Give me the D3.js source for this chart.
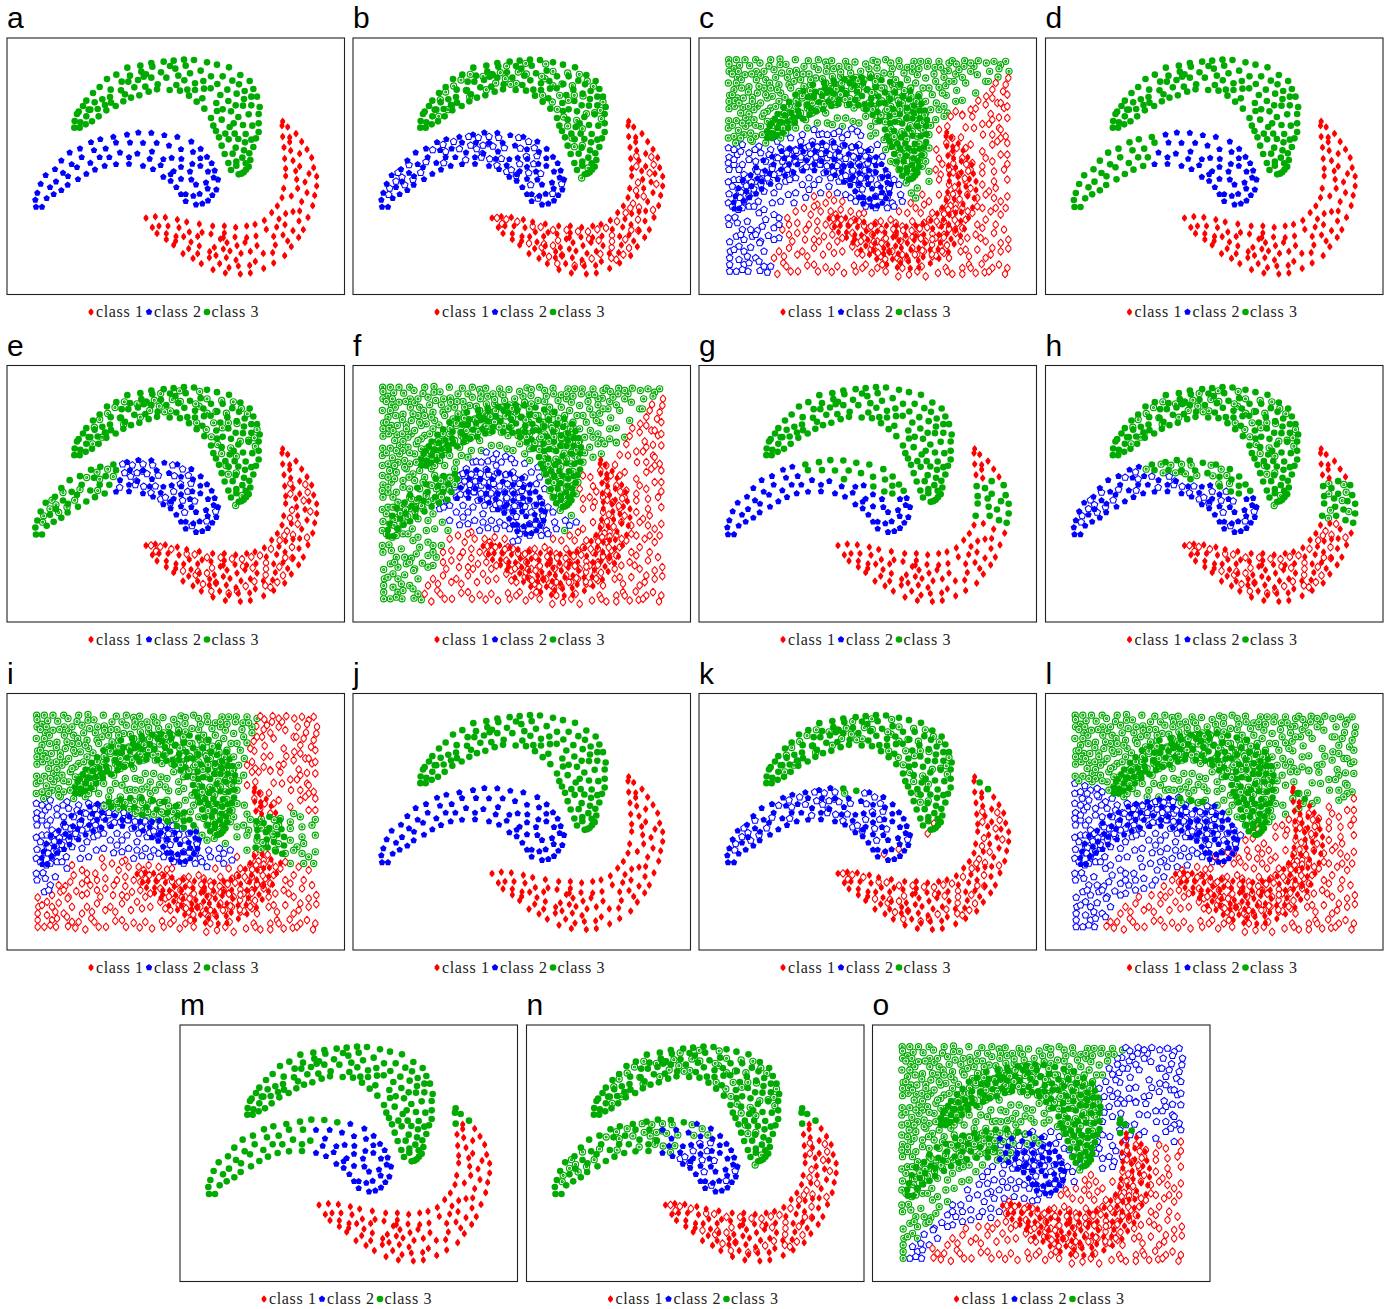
<!DOCTYPE html>
<html><head><meta charset="utf-8">
<script src="https://cdn.jsdelivr.net/npm/d3@7/dist/d3.min.js"></script>
<style>html,body{margin:0;padding:0;background:#fff}svg{display:block}</style></head>
<body><svg id="c" width="1390" height="1309"></svg>
<script>
const classNames = ["class 1","class 2","class 3"];
const panelLetters = "abcdefghijklmno".split("");

// data points of the three arms
const armRed = [[827,259],[825,272],[842,276],[827,305],[848,307],[867,296],[848,321],[884,320],[831,337],[851,347],[878,356],[900,343],[833,371],[858,377],[878,394],[914,368],[920,398],[836,401],[866,408],[906,416],[929,424],[836,423],[869,433],[894,441],[929,453],[830,460],[872,460],[900,473],[923,481],[825,488],[853,483],[884,500],[917,512],[811,513],[794,533],[836,536],[858,530],[878,528],[903,547],[772,556],[816,552],[834,569],[876,558],[889,584],[744,568],[719,573],[686,577],[652,573],[617,573],[577,567],[539,561],[511,554],[475,547],[445,545],[417,549],[436,577],[456,573],[483,573],[516,578],[450,595],[478,596],[478,613],[507,604],[530,605],[547,591],[585,592],[572,604],[612,597],[652,594],[649,608],[684,606],[640,612],[719,608],[747,603],[778,583],[809,576],[800,604],[828,600],[858,587],[875,607],[842,618],[853,635],[552,621],[506,618],[500,630],[545,641],[577,633],[608,650],[622,637],[660,623],[690,632],[714,622],[750,632],[805,630],[649,642],[528,656],[572,656],[558,670],[607,668],[627,661],[669,648],[702,655],[730,649],[769,655],[797,653],[833,662],[658,668],[687,675],[583,686],[638,686],[666,698],[694,693],[728,691],[745,679],[618,704],[655,714],[700,717],[730,714],[770,700],[800,684]];
const armBlue = [[87,516],[105,516],[85,495],[91,474],[119,490],[101,447],[129,457],[140,478],[163,466],[182,450],[147,440],[116,421],[144,403],[168,414],[183,424],[213,433],[238,417],[264,404],[293,393],[327,388],[366,387],[408,393],[438,403],[461,391],[469,373],[428,372],[366,367],[391,356],[435,350],[339,353],[307,367],[278,367],[250,384],[224,367],[210,397],[194,388],[163,377],[188,353],[219,341],[261,346],[296,341],[327,323],[252,322],[280,313],[319,306],[360,299],[394,293],[433,294],[472,301],[511,306],[553,320],[369,323],[408,324],[449,324],[486,332],[522,343],[558,351],[581,342],[494,369],[523,372],[556,387],[580,370],[600,366],[580,393],[614,385],[522,396],[549,410],[603,410],[623,407],[500,409],[491,418],[469,426],[491,438],[522,432],[553,434],[620,428],[633,434],[597,443],[567,449],[508,457],[602,461],[628,464],[522,478],[536,478],[559,483],[578,477],[616,481],[536,499],[567,509],[586,506],[603,497]];
const armGreen = [[203,258],[220,262],[202,278],[218,278],[236,268],[255,259],[210,237],[215,230],[238,244],[228,213],[238,197],[245,224],[250,224],[272,222],[275,244],[263,202],[286,193],[294,210],[298,226],[309,186],[312,203],[326,213],[258,174],[278,156],[311,164],[342,166],[354,178],[349,199],[372,188],[397,181],[300,132],[328,119],[344,140],[361,98],[369,122],[364,140],[382,157],[393,135],[400,92],[403,110],[410,125],[417,118],[433,84],[436,95],[433,128],[415,155],[425,170],[450,163],[452,148],[462,112],[478,128],[470,80],[489,93],[500,77],[505,101],[514,122],[531,74],[536,92],[561,75],[549,115],[532,136],[508,150],[488,165],[519,167],[541,164],[546,182],[564,145],[564,165],[589,138],[591,161],[612,124],[611,160],[581,107],[600,82],[630,89],[666,97],[647,124],[631,147],[676,137],[700,120],[728,138],[696,148],[739,162],[661,164],[640,180],[689,176],[713,168],[711,192],[733,185],[750,185],[758,216],[733,211],[708,212],[686,211],[664,198],[628,204],[569,200],[586,190],[592,221],[630,228],[647,223],[612,249],[644,254],[672,229],[694,246],[725,238],[755,237],[668,276],[680,265],[708,270],[736,272],[755,265],[619,272],[627,288],[655,296],[683,296],[716,297],[755,291],[636,307],[665,313],[694,312],[714,322],[733,314],[747,310],[644,332],[686,338],[711,346],[739,336],[653,357],[677,356],[727,355],[706,368],[664,384],[688,380],[730,375],[716,385],[672,405],[688,392],[725,395],[717,404],[710,412],[695,418],[703,416]];

// unlabeled points inside the arms
const openRed = [[432,549],[447,566],[460,553],[493,560],[539,574],[563,576],[600,585],[641,585],[675,589],[705,590],[733,583],[759,579],[792,559],[818,534],[840,506],[858,517],[855,554],[835,585],[777,601],[737,616],[708,612],[817,613],[856,587],[828,639],[811,659],[790,674],[775,669],[742,657],[716,671],[690,686],[665,692],[613,686],[588,665],[615,616],[600,632],[566,637],[573,627],[528,625],[627,661],[850,363],[895,366],[902,389],[850,394],[890,414],[855,443],[910,447],[872,484],[849,467],[900,525],[832,519],[776,637],[777,619]];
const openBlue = [[347,305],[376,308],[408,305],[497,308],[437,308],[527,320],[302,320],[270,329],[239,345],[319,342],[353,331],[371,342],[390,331],[408,327],[420,334],[454,339],[502,340],[544,339],[278,350],[388,356],[219,381],[168,390],[135,413],[147,427],[129,439],[110,460],[155,450],[180,434],[203,413],[272,384],[338,375],[410,372],[385,367],[445,371],[500,387],[542,387],[552,363],[520,364],[432,391],[461,410],[475,405],[490,422],[527,414],[563,416],[533,450],[626,447],[599,476],[555,490],[107,479]];
const openGreen = [[352,118],[324,135],[390,124],[418,119],[442,113],[461,93],[518,85],[578,87],[600,109],[644,114],[679,118],[703,138],[721,154],[658,152],[627,147],[600,152],[576,131],[520,117],[490,145],[473,148],[457,131],[428,144],[400,164],[340,166],[350,186],[278,171],[302,153],[262,194],[296,212],[257,244],[285,224],[569,181],[598,201],[620,181],[646,196],[664,181],[690,183],[613,223],[632,246],[671,256],[700,236],[725,233],[742,226],[750,201],[745,251],[644,273],[688,281],[657,309],[688,331],[664,335],[705,399],[686,429],[496,111],[566,124]];

// scattered test points behind the arms
const gridPoints = [[89,65],[90,78],[112,65],[122,82],[105,92],[138,65],[152,83],[170,65],[183,75],[215,65],[210,84],[243,63],[243,80],[261,79],[289,65],[292,97],[328,68],[345,85],[358,65],[380,72],[384,85],[398,68],[358,95],[382,100],[404,92],[440,70],[445,85],[468,72],[485,100],[522,67],[510,92],[534,90],[560,65],[575,75],[600,68],[602,85],[625,88],[645,70],[665,70],[640,100],[688,70],[685,85],[720,70],[708,88],[750,75],[748,98],[760,68],[797,68],[795,85],[772,78],[825,85],[838,68],[862,75],[885,70],[872,100],[920,70],[905,80],[930,100],[900,92],[815,75],
[115,118],[90,100],[88,135],[150,146],[127,125],[138,110],[172,100],[200,125],[185,112],[212,135],[230,118],[265,118],[240,140],[270,140],[293,110],[305,125],[330,108],[350,120],[370,122],[425,115],[455,105],[470,118],[495,125],[515,110],[535,115],[555,105],[575,108],[590,125],[615,105],[655,110],[680,120],[705,108],[735,100],[770,108],[790,118],[815,100],[835,110],[860,130],[897,117],[928,120],[920,140],[868,130],
[92,172],[115,180],[133,180],[105,155],[160,178],[175,165],[195,150],[215,150],[220,175],[245,165],[275,150],[300,160],[335,140],[365,160],[395,145],[420,140],[440,160],[470,150],[505,155],[530,145],[555,150],[580,140],[600,145],[610,175],[635,150],[660,170],[690,150],[720,148],[740,143],[773,157],[700,170],[765,130],[800,135],[830,165],[862,175],[880,155],[912,160],[925,170],[890,135],
[90,190],[90,212],[107,205],[132,208],[125,225],[160,190],[175,205],[165,215],[205,180],[215,210],[240,190],[262,210],[310,180],[340,195],[370,190],[410,200],[445,200],[475,180],[510,195],[545,190],[575,205],[610,195],[640,205],[660,185],[680,190],[712,195],[742,172],[720,215],[745,225],[770,190],[790,187],[770,220],[790,230],[815,215],[830,212],[838,188],[860,200],[895,195],[880,180],[905,195],[915,210],[875,228],[925,205],
[89,248],[112,248],[140,240],[150,255],[190,235],[205,220],[220,250],[250,230],[275,240],[305,225],[340,225],[380,225],[415,240],[440,240],[462,250],[500,235],[530,250],[560,250],[590,225],[625,240],[650,230],[680,225],[710,245],[735,235],[755,235],[790,232],[820,236],[850,258],[880,245],[900,238],[925,240],[900,270],
[88,270],[88,300],[118,277],[135,290],[155,285],[140,265],[185,265],[170,295],[205,280],[230,300],[260,285],[290,270],[325,270],[360,290],[385,255],[370,288],[405,287],[430,300],[458,273],[485,292],[515,294],[555,305],[580,280],[605,290],[640,280],[665,270],[690,290],[720,275],[745,265],[760,300],[786,298],[800,268],[825,270],[852,290],[870,258],[905,275],[920,295],[905,300],[880,290],
[88,330],[110,315],[130,320],[150,345],[160,310],[180,325],[200,315],[235,310],[270,335],[305,310],[320,330],[340,310],[370,320],[400,312],[433,322],[457,328],[480,320],[515,335],[535,320],[560,335],[590,315],[620,330],[660,318],[690,330],[712,335],[742,315],[773,330],[800,330],[815,320],[850,340],[880,320],[895,310],[925,315],[925,350],
[90,358],[88,375],[115,350],[130,380],[150,365],[185,345],[200,370],[230,358],[270,350],[290,372],[325,360],[350,375],[385,360],[410,350],[440,362],[470,360],[500,380],[525,368],[550,355],[575,370],[610,350],[640,365],[680,370],[720,362],[730,378],[760,345],[790,360],[820,375],[860,360],[880,370],[925,378],[905,350],[850,385],
[90,395],[105,380],[120,395],[135,410],[170,395],[190,405],[220,385],[240,405],[260,385],[280,405],[310,395],[340,385],[375,405],[405,395],[432,385],[460,402],[490,397],[525,405],[565,408],[600,395],[640,395],[670,385],[690,400],[710,395],[725,410],[750,395],[780,410],[815,395],[850,405],[885,400],[915,395],
[88,432],[105,425],[100,445],[120,460],[150,440],[170,430],[210,430],[240,445],[260,430],[290,420],[310,440],[330,455],[345,440],[365,465],[390,445],[415,465],[440,425],[480,440],[510,425],[535,440],[570,452],[600,440],[637,465],[655,450],[690,430],[720,425],[750,440],[775,450],[800,430],[850,440],[885,430],[925,425],[870,460],[890,450],
[90,468],[115,478],[88,495],[135,490],[150,475],[178,490],[220,495],[245,490],[268,470],[285,495],[320,478],[345,475],[355,500],[380,495],[405,487],[430,490],[455,480],[480,470],[510,490],[550,470],[580,495],[610,490],[635,495],[650,480],[670,470],[690,490],[720,470],[745,480],[770,500],[805,470],[835,480],[860,470],[885,480],[905,490],[925,475],
[100,505],[130,510],[150,505],[180,525],[195,515],[240,540],[265,540],[290,520],[315,510],[335,530],[365,520],[395,520],[425,515],[455,520],[480,528],[500,505],[530,510],[565,510],[600,520],[625,525],[650,510],[675,500],[700,525],[730,515],[760,530],[790,510],[820,525],[850,510],[875,520],[905,530],[920,510],
[88,540],[108,538],[90,560],[115,555],[130,575],[155,575],[175,578],[200,545],[225,570],[250,575],[270,560],[295,555],[330,560],[355,550],[380,560],[420,545],[450,560],[480,550],[510,570],[545,550],[575,545],[610,565],[640,550],[660,570],[690,545],[720,560],[750,570],[775,555],[800,545],[835,560],[860,545],[890,560],[915,575],
[112,595],[160,595],[135,605],[185,610],[208,593],[240,600],[270,590],[295,585],[318,605],[345,605],[355,578],[375,595],[400,590],[430,600],[460,585],[495,600],[520,590],[555,605],[590,590],[620,600],[650,590],[680,610],[710,600],[735,590],[770,585],[805,600],[830,590],[860,610],[885,585],[905,615],[928,605],
[92,612],[94,640],[120,625],[135,640],[155,628],[182,615],[225,660],[240,640],[270,630],[295,650],[325,655],[345,630],[372,650],[390,625],[430,640],[460,625],[490,650],[515,635],[545,655],[580,640],[610,650],[640,630],[675,640],[700,655],[725,625],[750,660],[785,640],[810,655],[835,635],[860,660],[880,630],[905,640],[928,632],
[92,660],[92,680],[120,665],[135,680],[150,675],[170,660],[180,670],[112,700],[92,700],[147,700],[183,698],[205,703],[215,685],[235,708],[253,675],[275,700],[297,700],[325,682],[357,700],[380,688],[398,702],[435,705],[465,683],[470,700],[518,705],[535,690],[560,700],[598,715],[630,710],[655,700],[680,715],[717,705],[740,690],[760,708],[790,690],[790,708],[830,705],[857,703],[880,690],[900,680],[925,690],[918,708],[848,678],[810,680],[500,680],
[100,108],[118,100],[158,108],[112,135],[172,125],[195,100],[225,95],[248,105],[272,100],[315,85],[312,108],[335,125],[400,115],[420,85],[425,102],[450,88],[445,125],[500,78],[535,72],[580,92],[640,85],[660,92],[725,88],[735,118],[750,130],[780,95],
[100,170],[128,150],[148,162],[180,145],[200,170],[235,155],[258,178],[285,130],[315,145],[345,165],[380,135],[410,165],[455,135],[490,145],[520,170],[570,170],[625,125],[650,135],[672,150],[710,130],[730,165],
[108,188],[120,195],[148,205],[150,228],[185,195],[195,225],[230,205],[290,205],[325,210],[355,215],[395,185],[430,180],[465,210],[495,210],[530,205],[560,220],[595,180],[625,220],[660,215],[695,215],[735,205],
[100,262],[130,255],[165,245],[170,262],[205,250],[235,260],[265,255],[320,245],[355,255],[400,260],[430,265],[480,255],[515,265],[545,235],[600,250],[660,255],[695,262],
[105,295],[125,300],[190,290],[155,305],[220,280],[245,300],[275,300],[310,290],[345,275],[385,290],[420,280],[445,290],[475,280],[530,285],[570,300],[620,300],[655,295],
[105,335],[125,340],[168,335],[215,335],[245,330],[290,335],[335,335],[355,345],[420,335],[495,345],[575,325],[600,345],[640,335],[675,350],
[105,365],[170,370],[210,350],[250,370],[305,365],[365,380],[420,375],[455,380],[510,360],[590,375],[620,385],[660,360],
[120,425],[135,430],[185,425],[225,410],[272,425],[330,420],[360,425],[395,420],[420,430],[465,425],[495,420],[545,420],[585,425],[625,420],
[135,455],[165,465],[195,460],[225,465],[290,465],[390,470],[440,470],[470,490],[530,475],[565,480],[605,470],
[118,515],[165,505],[225,530],[345,505],[410,530],[495,525],[585,505],[665,525],[745,505],[835,505],[890,510],
[145,550],[190,565],[240,560],[320,575],[400,565],[465,545],[530,555],[590,555],[675,555],[735,550],[790,570],[850,570],
[125,590],[170,590],[225,605],[280,610],[360,610],[415,610],[475,615],[535,610],[605,610],[665,600],[725,605],[785,610],[845,600],
[105,635],[145,655],[195,640],[255,655],[310,640],[405,645],[475,645],[530,640],[595,660],[655,650],[735,645],[800,635],[875,650],
[130,695],[195,685],[262,685],[345,680],[415,685],[490,690],[550,680],[610,690],[668,685],[745,700],[815,690],[870,700]];

// class regions for the scattered points: [class, polygon], first match wins, otherwise class 1
const gridRegions = {
 c:[[2,[[70,310],[190,325],[340,270],[470,265],[545,325],[590,400],[640,490],[560,525],[480,510],[400,470],[330,470],[260,530],[225,660],[230,720],[70,720]]],
    [3,[[70,50],[940,50],[935,100],[800,190],[740,235],[700,300],[705,410],[650,490],[590,440],[540,325],[470,265],[340,270],[190,325],[70,310]]]],
 f:[[2,[[255,430],[300,380],[320,320],[380,255],[460,265],[520,290],[560,300],[580,370],[600,430],[680,470],[620,500],[570,545],[490,550],[470,520],[380,500],[340,490],[280,470]]],
    [3,[[70,50],[940,50],[905,90],[850,150],[800,250],[700,290],[680,360],[680,500],[620,500],[560,530],[480,500],[340,490],[270,530],[225,650],[205,715],[70,720]]]],
 i:[[2,[[70,320],[300,320],[330,365],[450,385],[520,400],[580,440],[660,455],[690,495],[600,535],[480,510],[400,500],[280,490],[200,510],[140,560],[120,605],[70,605]]],
    [3,[[70,50],[760,50],[725,150],[715,280],[725,365],[860,355],[940,365],[940,530],[860,515],[760,470],[705,480],[660,455],[580,440],[520,400],[450,385],[330,365],[300,320],[70,320]]]],
 l:[[2,[[70,260],[130,265],[210,310],[310,320],[400,310],[460,340],[540,370],[590,430],[545,490],[490,510],[400,520],[350,570],[270,615],[210,650],[170,715],[70,715]]],
    [3,[[70,50],[940,50],[940,305],[830,335],[680,375],[630,430],[590,430],[540,370],[460,340],[400,310],[310,320],[210,310],[130,265],[70,260]]]],
 o:[[2,[[770,50],[945,50],[945,345],[810,365],[745,340],[755,400],[700,445],[650,440],[610,480],[560,505],[480,530],[410,530],[370,590],[300,600],[200,650],[140,710],[100,715],[120,660],[220,540],[330,455],[375,410],[385,345],[460,325],[530,290],[570,320],[600,400],[650,420],[680,330],[670,180],[700,140]]],
    [3,[[70,50],[770,50],[700,140],[670,180],[680,330],[650,420],[600,400],[570,320],[530,290],[460,325],[385,345],[375,410],[330,455],[220,540],[120,660],[85,720],[70,720]]]]
};

// label changes on the arm points
const tailShort = [[0,200],[335,200],[335,335],[320,345],[320,600],[0,600]];
const topEdge = [[300,270],[670,270],[670,400],[575,395],[530,380],[470,360],[400,345],[340,330],[300,320]];
const redPatch = [[790,349],[950,349],[950,482],[790,482]];
const tailLong = [[0,200],[400,200],[400,600],[0,600]];
const tailLongOpen = [[0,200],[450,200],[450,400],[0,400]];
const topOpen = [[450,200],[600,200],[600,349],[450,349]];
const topFew = [[425,285],[490,285],[490,315],[425,315]];
const topFewMore = [[425,285],[520,285],[520,315],[425,315]];
const redTip = [[815,250],[880,250],[880,300],[842,300],[835,312],[815,312]];
const redTipFew = [[835,265],[875,265],[875,305],[835,295]];
const blueEndOpen = [[530,470],[610,470],[610,515],[530,515]];
const greenEndOpen = [[680,385],[715,385],[715,440],[680,440]];
const rulesLong = [[2,3,tailLong,"all"],[2,3,tailLongOpen,"open"],[2,3,topOpen,"open"],[2,3,topFew,"filled"],[1,3,redTip,"all"]];
const armRules = {
 d:[[2,3,tailShort,"all"]], e:[[2,3,tailShort,"all"]], f:[[2,3,tailShort,"all"]],
 g:[[2,3,topEdge,"all"],[1,3,redPatch,"all"]], h:[[2,3,topEdge,"all"],[1,3,redPatch,"all"]], i:[[2,3,topEdge,"all"],[1,3,redPatch,"all"]],
 k:[[2,3,topFew,"all"],[2,1,blueEndOpen,"open"],[3,1,greenEndOpen,"open"],[1,3,redTipFew,"all"]],
 l:[[2,3,topFewMore,"all"],[2,1,blueEndOpen,"open"],[3,1,greenEndOpen,"open"],[1,3,redTipFew,"all"]],
 m:rulesLong, n:rulesLong, o:rulesLong
};
const withOpen = "bcefhiklno";
const withGrid = "cfilo";

const classColors = {1:"#ff0000",2:"#0000ff",3:"#00aa00"};
const frameLefts = [7,353,699,1045.5, 7,353,699,1045.5, 7,353,699,1045.5, 180,526.5,872.5];
const frameTops = [38,38,38,38, 365.5,365.5,365.5,365.5, 693.5,693.5,693.5,693.5, 1025,1025,1025];
const FW = 337.5, FH = 256.5;

function markerPath(c, open){
  const p = d3.path();
  if(c===1){ const w=open?2.6:2.4,h=open?3.8:3.8;
    p.moveTo(0,-h);p.lineTo(w,-h*0.25);p.lineTo(w,h*0.25);p.lineTo(0,h);p.lineTo(-w,h*0.25);p.lineTo(-w,-h*0.25);p.closePath(); }
  else if(c===2){ const r=open?3.5:3.4;
    for(let i=0;i<5;i++){const a=-Math.PI/2+i*2*Math.PI/5;const x=r*Math.cos(a),y=r*Math.sin(a);i?p.lineTo(x,y):p.moveTo(x,y);} p.closePath(); }
  else { const r=open?3.1:3.3; p.moveTo(r,0);p.arc(0,0,r,0,2*Math.PI);
    if(open){p.moveTo(1,0);p.arc(0,0,1,0,2*Math.PI);} p.closePath(); }
  return p.toString();
}
const paths = {};
[1,2,3].forEach(c=>{paths[c+"f"]=markerPath(c,false);paths[c+"o"]=markerPath(c,true);});

function drawMarks(g, pts, open){
  g.selectAll(null).data(pts).enter().append("path")
   .attr("d",d=>paths[d.c+(open?"o":"f")])
   .attr("transform",d=>`translate(${d.x.toFixed(2)},${d.y.toFixed(2)})`)
   .attr("fill",d=>open?"#fff":classColors[d.c])
   .attr("stroke",d=>open?classColors[d.c]:"none")
   .attr("stroke-width",d=>open?(d.c===3?1.15:1.05):0);
}
const svg = d3.select("#c");
panelLetters.forEach((L,i)=>{
  const g = svg.append("g").attr("transform",`translate(${frameLefts[i]},${frameTops[i]})`);
  const dense = withGrid.includes(L);
  const fx = d3.scaleLinear().domain([0,1014]).range([0,338]);
  const fy = d3.scaleLinear().domain([0,771]).range([0,257]);
  const ax = dense ? d3.scaleLinear().domain([0,1014]).range([10.3,301.4]) : d3.scaleLinear().domain([0,1014]).range([0,338]);
  const ay = dense ? d3.scaleLinear().domain([9,780]).range([20.3,249]) : d3.scaleLinear().domain([9,780]).range([0,257]);
  const rules = armRules[L]||[];
  const relabel = (p,c,kind)=>{
    for(const [from,to,poly,only] of rules){
      if(from===c && (only==="all"||only===kind) && d3.polygonContains(poly,p)) return to;
    }
    return c;
  };
  const arm = (arr,c,kind)=>arr.map(p=>({x:ax(p[0]),y:ay(p[1]),c:relabel(p,c,kind)}));
  if(dense){
    const reg = gridRegions[L];
    const pts = gridPoints.map(p=>{
      let c=1; for(const [k,poly] of reg){ if(d3.polygonContains(poly,p)){c=k;break;} }
      return {x:fx(p[0]),y:fy(p[1]),c};
    });
    drawMarks(g,pts,true);
  }
  if(withOpen.includes(L)){
    drawMarks(g,[...arm(openRed,1,"open"),...arm(openBlue,2,"open"),...arm(openGreen,3,"open")],true);
  }
  drawMarks(g,[...arm(armRed,1,"filled"),...arm(armBlue,2,"filled"),...arm(armGreen,3,"filled")],false);
  g.append("rect").attr("x",0).attr("y",0).attr("width",FW).attr("height",FH)
    .attr("fill","none").attr("stroke","#222").attr("stroke-width",1.1);
  svg.append("text").text(L).attr("x",frameLefts[i]).attr("y",frameTops[i]-10)
    .attr("font-family","'Liberation Sans',Arial,sans-serif").attr("font-size",30).attr("fill","#000");
  // legend
  const lg = g.append("g").attr("transform",`translate(0,${FH+17.5})`);
  const mx=[84,142,200], tx=[89,147,204.5];
  [1,2,3].forEach((c,k)=>{
    lg.append("path").attr("d",paths[c+"f"]).attr("transform",`translate(${mx[k]},0)`).attr("fill",classColors[c]);
    lg.append("text").text(classNames[k]).attr("x",tx[k]).attr("y",5)
      .attr("font-family","'Liberation Serif','DejaVu Serif',serif").attr("font-size",16)
      .attr("textLength",47).attr("lengthAdjust","spacing").attr("fill","#222");
  });
});
</script></body></html>
